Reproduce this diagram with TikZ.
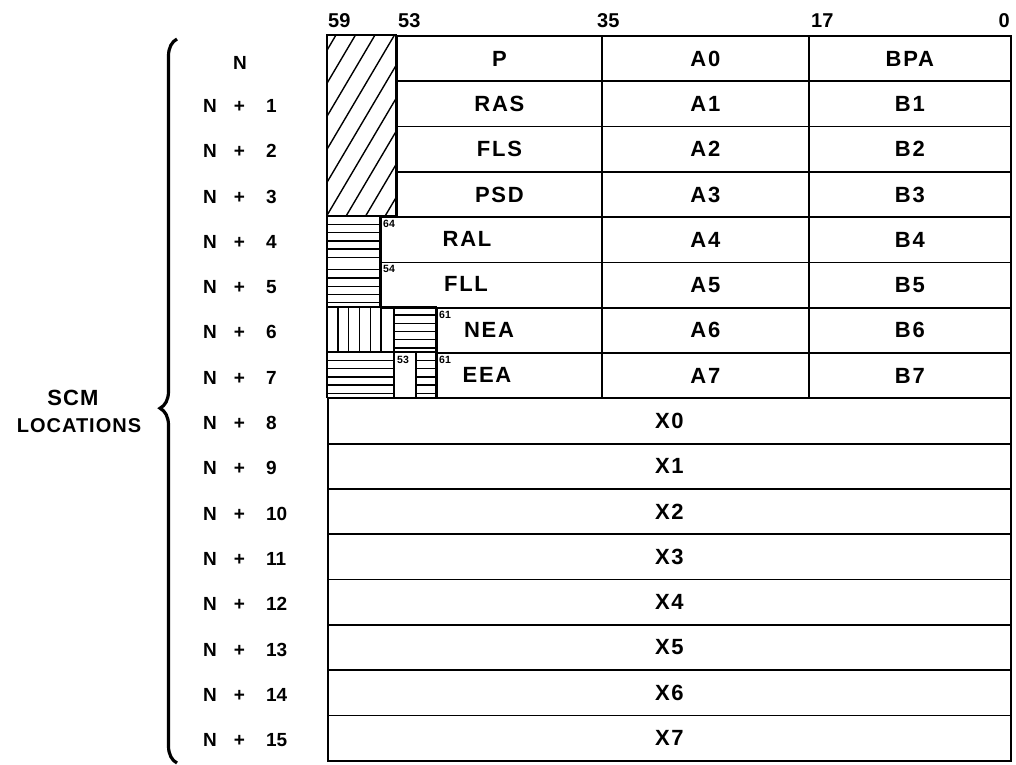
\documentclass[tikz,border=0pt]{standalone}
\usepackage{fontspec}
\setmainfont{Liberation Sans}
\newfontfamily\letterfont[LetterSpace=8]{Liberation Sans}
\newfontfamily\sidefont[LetterSpace=5]{Liberation Sans}
\usetikzlibrary{positioning,decorations.pathreplacing}
\def\rh{45.3}
\tikzset{cell/.style={rectangle, draw, line width=1.8pt, inner sep=0pt,
  minimum height=45.3pt, anchor=north west,
  font=\letterfont\bfseries\fontsize{22}{22}\selectfont}}
\tikzset{fieldtxt/.style={inner sep=0pt, font=\letterfont\bfseries\fontsize{22}{22}\selectfont}}
\tikzset{sidetxt/.style={inner sep=0pt, font=\sidefont\bfseries\fontsize{20}{20}\selectfont}}
\tikzset{bitno/.style={inner sep=0pt, font=\bfseries\fontsize{20}{20}\selectfont}}
\tikzset{smallno/.style={inner sep=0pt, anchor=north west, font=\bfseries\fontsize{10.5}{10.5}\selectfont}}
\tikzset{loc/.style={inner sep=0pt, anchor=west, font=\bfseries\fontsize{19}{19}\selectfont}}
\tikzset{hatch/.style={line width=1.4pt}}

\begin{document}
\begin{tikzpicture}[x=1pt,y=-1pt]
  \useasboundingbox (0,0) rectangle (1016,764);
  % bit numbers
  \node[bitno, anchor=west] (b59) at (328,21) {59};
  \node[bitno, anchor=west] (b53) at (398,21) {53};
  \node[bitno, anchor=west] (b35) at (597,21) {35};
  \node[bitno, anchor=west] (b17) at (811,21) {17};
  \node[bitno, anchor=east] (b0) at (1010,21) {0};

  % words N .. N+3
  \foreach \f/\a/\b [count=\i from 0] in {P/A0/BPA, RAS/A1/B1, FLS/A2/B2, PSD/A3/B3} {
    \node[cell, minimum width=205pt] (f\i) at (396,{35+\i*\rh}) {\f};
    \node[cell, minimum width=207pt] (a\i) at (601,{35+\i*\rh}) {\a};
    \node[cell, minimum width=202pt] (b\i) at (808,{35+\i*\rh}) {\b};
  }
  \begin{scope}
    \clip (327,35) rectangle (396,{35+4*\rh});
    \foreach \s in {0,...,8}
      \draw[hatch] ({336+19.5*\s},35) -- ({336+19.5*\s-107},{35+4*\rh});
  \end{scope}
  \draw[line width=1.8pt] (327,35) rectangle (396,{35+4*\rh});

  % words N+4 .. N+7
  \foreach \a/\b [count=\i from 4] in {A4/B4, A5/B5, A6/B6, A7/B7} {
    \node[cell, minimum width=207pt] (a\i) at (601,{35+\i*\rh}) {\a};
    \node[cell, minimum width=202pt] (b\i) at (808,{35+\i*\rh}) {\b};
  }
  \node[cell, minimum width=221pt] (f4) at (380,{35+4*\rh}) {};
  \node[cell, minimum width=221pt] (f5) at (380,{35+5*\rh}) {};
  \node[cell, minimum width=165pt] (f6) at (436,{35+6*\rh}) {};
  \node[cell, minimum width=165pt] (f7) at (436,{35+7*\rh}) {};
  \node[fieldtxt] (ral) at (467,{35+4.5*\rh}) {RAL};
  \node[fieldtxt] (fll) at (466,{35+5.5*\rh}) {FLL};
  \node[fieldtxt] (nea) at (489,{35+6.5*\rh}) {NEA};
  \node[fieldtxt] (eea) at (487,{35+7.5*\rh}) {EEA};
  \node[smallno] (s64) at (383,{35+4*\rh+4}) {64};
  \node[smallno] (s54) at (383,{35+5*\rh+4}) {54};
  \node[smallno] (s61a) at (439,{35+6*\rh+4}) {61};
  \node[smallno] (s61b) at (439,{35+7*\rh+4}) {61};
  \node[smallno] (s53) at (397,{35+7*\rh+4}) {53};

  % unused bits
  \draw[line width=1.8pt] (327,{35+4*\rh}) rectangle (380,{35+6*\rh});
  \foreach \r in {4,5}
    \foreach \k in {1,...,5}
      \draw[hatch] (327,{35+\r*\rh+8.24*\k}) -- (380,{35+\r*\rh+8.24*\k});
  \draw[line width=1.8pt] (327,{35+6*\rh}) rectangle (394,{35+7*\rh});
  \foreach \k in {1,...,5}
    \draw[hatch] ({327+10.8*\k},{35+6*\rh}) -- ({327+10.8*\k},{35+7*\rh});
  \draw[line width=1.8pt] (394,{35+6*\rh}) rectangle (436,{35+7*\rh});
  \foreach \k in {1,...,5}
    \draw[hatch] (394,{35+6*\rh+8.24*\k}) -- (436,{35+6*\rh+8.24*\k});
  \draw[line width=1.8pt] (327,{35+7*\rh}) rectangle (394,{35+8*\rh});
  \draw[line width=1.8pt] (394,{35+7*\rh}) rectangle (416,{35+8*\rh});
  \draw[line width=1.8pt] (416,{35+7*\rh}) rectangle (436,{35+8*\rh});
  \foreach \k in {1,...,5} {
    \draw[hatch] (327,{35+7*\rh+8.24*\k}) -- (394,{35+7*\rh+8.24*\k});
    \draw[hatch] (416,{35+7*\rh+8.24*\k}) -- (436,{35+7*\rh+8.24*\k});
  }

  % words N+8 .. N+15
  \foreach \i in {0,...,7}
    \node[cell, minimum width=683pt] (x\i) at (327,{35+(8+\i)*\rh}) {X\i};

  % locations
  \node[loc] (n0) at (233,{35+0.5*\rh+5}) {N};
  \foreach \i in {1,...,15}
    \node[loc] (n\i) at (203,{35+(\i+0.5)*\rh+3}) {N\hskip17pt+\hskip21pt\i};
  \coordinate (brtop) at (177,39);
  \coordinate (brbot) at (177,763);
  \draw[line width=3.2pt, decorate, decoration={brace, amplitude=17pt, aspect=0.49}] (brbot) -- (brtop);
  \node[sidetxt, font=\sidefont\bfseries\fontsize{22}{22}\selectfont] (scm) at (73,398) {SCM};
  \node[sidetxt] (scmloc) at (79,426) {LOCATIONS};
\end{tikzpicture}
\end{document}
